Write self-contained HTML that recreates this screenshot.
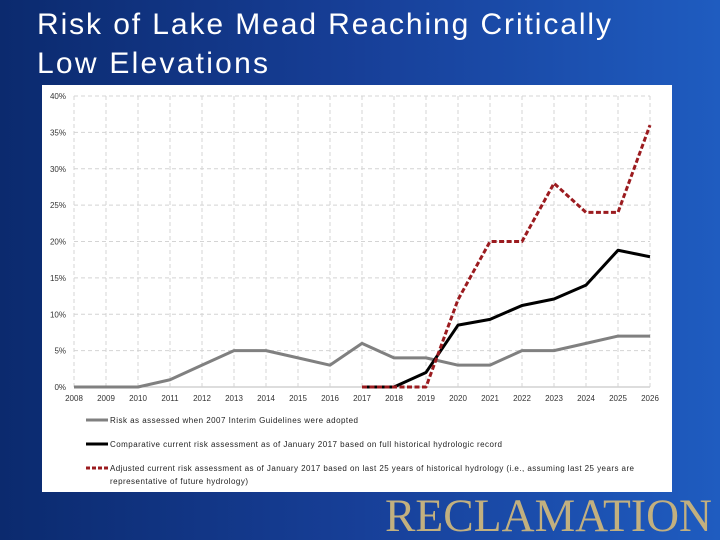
<!DOCTYPE html>
<html><head><meta charset="utf-8"><style>
body{margin:0;width:720px;height:540px;overflow:hidden;background:linear-gradient(90deg,#0b2a6e 0%,#173f98 50%,#1f5cc0 100%);font-family:"Liberation Sans",sans-serif;}
svg{position:absolute;left:0;top:0}
</style></head><body>
<svg width="720" height="540">
<text x="37" y="34" fill="#fff" font-size="30" textLength="574" lengthAdjust="spacing">Risk of Lake Mead Reaching Critically</text>
<text x="37" y="73" fill="#fff" font-size="30" textLength="231" lengthAdjust="spacing">Low Elevations</text>
<rect x="42" y="85" width="630" height="407" fill="#fff"/>
<g id="grid"></g>
<g id="axes"></g>
<g id="series"></g>
<g font-size="8" fill="#222">
<line x1="86" y1="420" x2="108" y2="420" stroke="#808080" stroke-width="3"/>
<text x="110" y="423" textLength="248" lengthAdjust="spacing">Risk as assessed when 2007 Interim Guidelines were adopted</text>
<line x1="86" y1="444" x2="108" y2="444" stroke="#000" stroke-width="3"/>
<text x="110" y="447" textLength="392" lengthAdjust="spacing">Comparative current risk assessment as of January 2017 based on full historical hydrologic record</text>
<line x1="86" y1="468" x2="108" y2="468" stroke="#9b1b1f" stroke-width="3" stroke-dasharray="4,2"/>
<text x="110" y="471" textLength="524" lengthAdjust="spacing">Adjusted current risk assessment as of January 2017 based on last 25 years of historical hydrology (i.e., assuming last 25 years are</text>
<text x="110" y="484" textLength="138" lengthAdjust="spacing">representative of future hydrology)</text>
</g>
<text x="385" y="531" fill="#c2b07f" font-size="47" font-family="Liberation Serif,serif" textLength="327" lengthAdjust="spacingAndGlyphs">RECLAMATION</text>
</svg>
<script>
const years=[2008,2009,2010,2011,2012,2013,2014,2015,2016,2017,2018,2019,2020,2021,2022,2023,2024,2025,2026];
const grayVals=[0,0,0,1,3,5,5,4,3,6,4,4,3,3,5,5,6,7,7];
const blackYears=[2017,2018,2019,2020,2021,2022,2023,2024,2025,2026];
const blackVals=[0,0,2,8.5,9.3,11.2,12.1,14,18.8,17.9];
const redYears=[2017,2018,2019,2020,2021,2022,2023,2024,2025,2026];
const redVals=[0,0,0,12,20,20,28,24,24,36];
const yTicks=[0,5,10,15,20,25,30,35,40];
const NS='http://www.w3.org/2000/svg';
const X=y=>74+(y-2008)*32, Y=v=>387-v*7.275;
function mk(t,a,p){const e=document.createElementNS(NS,t);for(const k in a)e.setAttribute(k,a[k]);p.appendChild(e);return e;}
const g=document.getElementById('grid'),ax=document.getElementById('axes'),s=document.getElementById('series');
yTicks.forEach(v=>{
 const l=mk('line',{x1:74,x2:650,y1:Y(v),y2:Y(v),stroke:v?'#d4d4d4':'#bbb','stroke-dasharray':v?'4,3':''},g);
 
 
 const t=mk('text',{x:66,y:Y(v)+3,'text-anchor':'end','font-size':8,fill:'#333'},ax);
 t.textContent=v+'%';
 
 
});
years.forEach(yr=>{
 const l=mk('line',{x1:X(yr),x2:X(yr),y1:Y(40),y2:Y(0),stroke:'#d4d4d4','stroke-dasharray':'4,3'},g);
 
 
 const t=mk('text',{x:X(yr),y:401,'text-anchor':'middle','font-size':8,fill:'#333'},ax);
 t.textContent=yr;
 
 
});
function line(xs,vs,st,w,dash,name){
 const p=mk('polyline',{points:xs.map((x,i)=>X(x)+','+Y(vs[i])).join(' '),fill:'none',stroke:st,'stroke-width':w,'stroke-linejoin':'round'},s);
 if(dash)p.setAttribute('stroke-dasharray',dash);
 
 
}
line(years,grayVals,'#808080',3,null,'series-2007-guidelines');
line(blackYears,blackVals,'#000',3,null,'series-full-record');
line(redYears,redVals,'#9b1b1f',3,'5,2.5','series-last-25-years');
</script>
</body></html>
